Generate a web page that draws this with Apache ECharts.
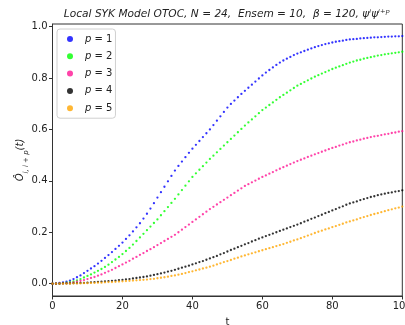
<!DOCTYPE html>
<html><head><meta charset="utf-8">
<script src="https://cdn.jsdelivr.net/npm/echarts@6/dist/echarts.min.js"></script>
<style>html,body{margin:0;padding:0;background:#fff}#c{width:405px;height:325px}</style>
</head><body><div id="c"></div>
<script>
const tValues = Array.from({length: 101}, (_, i) => i);
const xTicks = [0, 20, 40, 60, 80, 100];
const yTicks = [0.0, 0.2, 0.4, 0.6, 0.8, 1.0];
const seriesNames = ['p = 1', 'p = 2', 'p = 3', 'p = 4', 'p = 5'];
const p1 = [0,0.001,0.003,0.005,0.008,0.012,0.018,0.025,0.032,0.041,0.05,0.059,0.068,0.078,0.089,0.10,0.111,0.123,0.135,0.147,0.16,0.174,0.188,0.203,0.219,0.235,0.253,0.272,0.292,0.313,0.335,0.356,0.377,0.398,0.419,0.44,0.458,0.475,0.492,0.509,0.525,0.54,0.555,0.57,0.585,0.60,0.617,0.634,0.651,0.668,0.685,0.699,0.712,0.725,0.738,0.75,0.762,0.774,0.786,0.798,0.81,0.821,0.831,0.841,0.851,0.86,0.868,0.875,0.882,0.889,0.895,0.9,0.905,0.91,0.915,0.92,0.924,0.928,0.932,0.935,0.938,0.941,0.943,0.945,0.948,0.95,0.951,0.952,0.954,0.955,0.956,0.957,0.958,0.958,0.959,0.96,0.961,0.961,0.962,0.962,0.963];
const p2 = [0,0.0005,0.001,0.002,0.004,0.006,0.009,0.013,0.018,0.024,0.03,0.036,0.043,0.05,0.057,0.065,0.074,0.084,0.094,0.104,0.115,0.127,0.139,0.152,0.166,0.18,0.194,0.208,0.222,0.236,0.25,0.266,0.282,0.298,0.314,0.33,0.347,0.364,0.381,0.398,0.415,0.429,0.443,0.457,0.471,0.485,0.498,0.511,0.524,0.537,0.55,0.563,0.576,0.589,0.602,0.615,0.627,0.639,0.651,0.663,0.675,0.685,0.695,0.705,0.715,0.725,0.734,0.743,0.752,0.761,0.77,0.777,0.784,0.791,0.798,0.805,0.811,0.817,0.823,0.829,0.835,0.84,0.845,0.85,0.855,0.86,0.864,0.868,0.871,0.875,0.878,0.881,0.884,0.887,0.889,0.892,0.894,0.896,0.898,0.9,0.902];
const p3 = [0,0,0.001,0.001,0.002,0.003,0.005,0.008,0.011,0.014,0.018,0.022,0.026,0.031,0.036,0.042,0.048,0.054,0.061,0.068,0.075,0.082,0.089,0.097,0.104,0.112,0.119,0.127,0.134,0.142,0.15,0.158,0.166,0.174,0.182,0.19,0.2,0.21,0.22,0.23,0.24,0.25,0.26,0.27,0.28,0.29,0.299,0.308,0.317,0.326,0.335,0.344,0.353,0.362,0.371,0.38,0.387,0.394,0.401,0.408,0.415,0.421,0.428,0.434,0.441,0.447,0.453,0.459,0.465,0.471,0.477,0.482,0.487,0.493,0.498,0.503,0.508,0.513,0.518,0.523,0.528,0.532,0.537,0.541,0.546,0.55,0.553,0.557,0.56,0.564,0.567,0.57,0.573,0.575,0.578,0.581,0.583,0.586,0.588,0.591,0.593];
const p4 = [0,0,0,0.001,0.001,0.001,0.002,0.002,0.003,0.003,0.004,0.005,0.006,0.007,0.008,0.009,0.01,0.011,0.012,0.014,0.015,0.017,0.018,0.02,0.022,0.024,0.026,0.028,0.031,0.034,0.037,0.04,0.043,0.047,0.05,0.054,0.058,0.062,0.066,0.07,0.075,0.079,0.084,0.088,0.093,0.098,0.103,0.108,0.114,0.119,0.125,0.131,0.136,0.142,0.147,0.153,0.158,0.164,0.169,0.175,0.18,0.185,0.19,0.195,0.2,0.205,0.21,0.215,0.22,0.225,0.23,0.235,0.241,0.246,0.252,0.257,0.263,0.268,0.274,0.279,0.285,0.29,0.296,0.301,0.307,0.312,0.316,0.32,0.325,0.329,0.333,0.337,0.34,0.344,0.347,0.35,0.353,0.355,0.358,0.36,0.363];
const p5 = [0,0,0,0,0,0,0.001,0.001,0.001,0.002,0.002,0.003,0.003,0.004,0.004,0.005,0.006,0.006,0.007,0.008,0.009,0.01,0.011,0.012,0.013,0.014,0.015,0.016,0.018,0.019,0.021,0.023,0.025,0.027,0.03,0.032,0.035,0.038,0.041,0.045,0.048,0.052,0.055,0.059,0.062,0.066,0.07,0.075,0.079,0.084,0.088,0.092,0.097,0.101,0.106,0.11,0.114,0.118,0.122,0.126,0.13,0.134,0.138,0.142,0.146,0.15,0.154,0.159,0.163,0.168,0.172,0.177,0.182,0.187,0.192,0.197,0.202,0.206,0.211,0.215,0.22,0.224,0.229,0.233,0.238,0.242,0.246,0.25,0.255,0.259,0.263,0.267,0.271,0.274,0.278,0.282,0.286,0.289,0.293,0.296,0.30];
const allSeries = [p1, p2, p3, p4, p5];
const colors = ['#0000ff', '#00ff00', '#ff1493', '#000000', '#ffa500'];

const chart = echarts.init(document.getElementById('c'), null, {renderer: 'canvas'});
const FONT = 'DejaVu Sans';
const axisColor = '#333';
chart.setOption({
  animation: false,
  backgroundColor: '#fff',
  title: {
    left: 222, top: 4, textAlign: 'center',
    text: 'Local SYK Model OTOC, N = 24,  Ensem = 10,  β = 120, ψⁱψⁱ⁺ᵖ',
    textStyle: {fontFamily: FONT, fontStyle: 'italic', fontWeight: 'normal', fontSize: 10.6, color: '#222'}
  },
  grid: {left: 52.5, right: 2.7, top: 24, bottom: 29, show: true, borderColor: axisColor, borderWidth: 1, backgroundColor: 'transparent', outerBoundsMode: 'none', containLabel: false},
  legend: {
    orient: 'vertical', left: 57, top: 29,
    backgroundColor: '#fff', borderColor: '#d0d0d0', borderWidth: 1, borderRadius: 3,
    padding: [4, 3, 4, 10],
    itemWidth: 6, itemHeight: 6, itemGap: 5.3,
    icon: 'circle',
    data: seriesNames,
    formatter: n => '{i|p} = ' + n.split('= ')[1],
    textStyle: {
      fontFamily: FONT, fontSize: 10, color: '#222', lineHeight: 12, padding: [0, 0, 0, 7],
      rich: {i: {fontFamily: FONT, fontStyle: 'italic', fontSize: 10, color: '#222', lineHeight: 12}}
    }
  },
  xAxis: {
    type: 'value', min: 0, max: 100, interval: 20,
    name: 't', nameLocation: 'middle', nameGap: 21, nameMoveOverlap: false,
    nameTextStyle: {fontFamily: FONT, fontSize: 10, color: '#222'},
    axisLine: {show: true, onZero: false, lineStyle: {color: axisColor, width: 1}},
    axisTick: {show: true, length: 3.5, lineStyle: {color: axisColor}},
    axisLabel: {fontFamily: FONT, fontSize: 10, color: '#222', margin: 5, customValues: xTicks},
    splitLine: {show: false}
  },
  yAxis: {
    type: 'value', min: -0.048, max: 1.01,
    name: '{h|Ô}{sub|i, i + p}{h|(t)}', nameLocation: 'middle', nameGap: 23, nameRotate: 90, nameMoveOverlap: false,
    nameTextStyle: {
      rich: {
        h: {fontFamily: FONT, fontStyle: 'italic', fontSize: 10, color: '#222', lineHeight: 14, verticalAlign: 'top'},
        sub: {fontFamily: FONT, fontStyle: 'italic', fontSize: 7, color: '#222', lineHeight: 14, verticalAlign: 'bottom'}
      }
    },
    axisLine: {show: true, onZero: false, lineStyle: {color: axisColor, width: 1}},
    axisTick: {show: true, length: 3.5, lineStyle: {color: axisColor}, customValues: yTicks},
    axisLabel: {fontFamily: FONT, fontSize: 10, color: '#222', margin: 5, customValues: yTicks, formatter: v => v.toFixed(1)},
    splitLine: {show: false}
  },
  series: allSeries.map((vals, k) => ({
    name: seriesNames[k],
    type: 'scatter',
    symbol: 'circle',
    symbolSize: 2.3,
    itemStyle: {color: colors[k], opacity: 0.8},
    data: tValues.map((t, i) => [t, vals[i]])
  }))
});
</script>
</body></html>
